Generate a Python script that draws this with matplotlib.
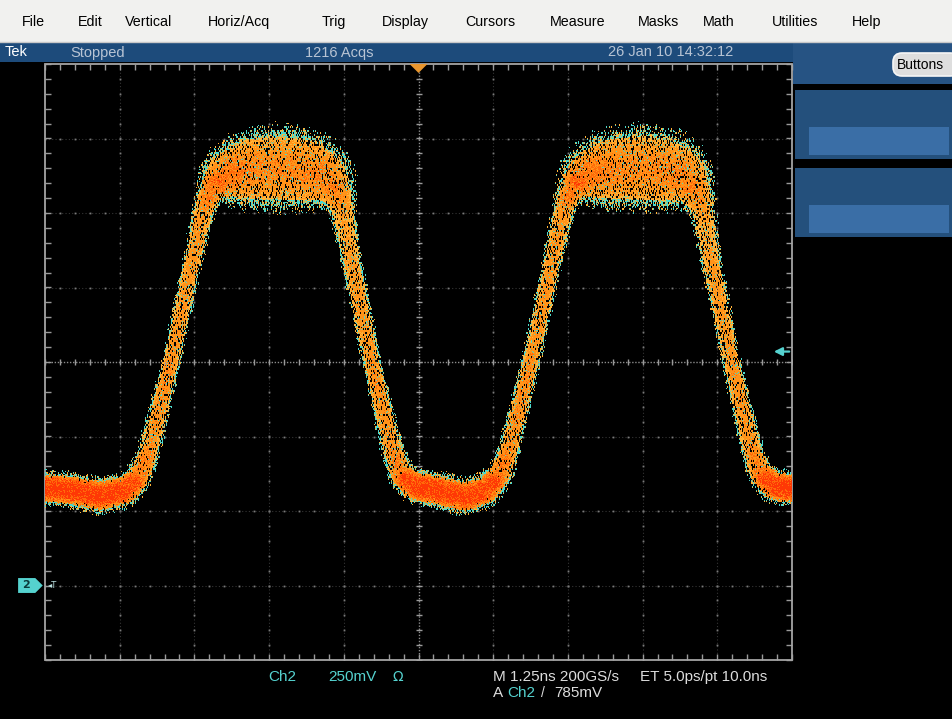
import numpy as np
import matplotlib.pyplot as plt
from matplotlib import font_manager
from matplotlib.patches import Rectangle, FancyBboxPatch, Polygon

# scope settings shown in the readouts
ch2_mv_per_div = 250
ns_per_div = 1.25
ch2_ground_div = -3
trigger_level_mv = 785
acq_count = 1216
timestamp = '26 Jan 10 14:32:12'

# Ch2 colour-graded trace: centre of the band and its half thickness
time_ns = [0.00, 0.42, 0.92, 1.34, 1.56, 1.72, 2.11, 2.51, 2.68, 2.84,
           3.10, 3.51, 3.93, 4.35, 4.64, 4.85, 4.99, 5.09, 5.47, 5.81,
           5.97, 6.19, 6.69, 7.03, 7.36, 7.58, 7.74, 8.13, 8.53, 8.70,
           8.86, 9.12, 9.53, 9.95, 10.37, 10.66, 10.87, 11.01, 11.11, 11.49,
           11.83, 11.99, 12.21, 12.50]
level_mv = [327, 320, 300, 320, 361, 438, 750, 1126, 1277, 1344,
            1381, 1398, 1401, 1394, 1374, 1327, 1260, 1126, 750, 455,
            371, 334, 314, 297, 320, 361, 438, 750, 1126, 1277,
            1344, 1381, 1398, 1401, 1394, 1374, 1327, 1260, 1126, 750,
            455, 371, 334, 325]
spread_mv = [55, 56, 58, 55, 45, 36, 30, 32, 38, 55,
             95, 126, 132, 126, 100, 62, 42, 34, 30, 36,
             45, 55, 58, 58, 55, 45, 36, 30, 32, 38,
             55, 95, 126, 132, 126, 100, 62, 42, 34, 30,
             36, 45, 55, 55]

menu_items = ['File', 'Edit', 'Vertical', 'Horiz/Acq', 'Trig', 'Display',
              'Cursors', 'Measure', 'Masks', 'Math', 'Utilities', 'Help']

W, H = 953, 719
installed = {f.name for f in font_manager.fontManager.ttflist}
narrow = 'Liberation Sans Narrow' if 'Liberation Sans Narrow' in installed else 'Liberation Sans'
ui = 'Liberation Sans'
cyan = '#55d2cf'
grey_txt = '#dcdcdc'

fig = plt.figure(figsize=(W / 100, H / 100), dpi=100, facecolor='black')

# window chrome in pixel coordinates
ax = fig.add_axes([0, 0, 1, 1])
ax.set_xlim(0, W)
ax.set_ylim(H, 0)
ax.axis('off')

ax.add_patch(Rectangle((0, 0), W, 42, fc='#f1f1ef', ec='none'))
ax.plot([0, W], [41.5, 41.5], color='#c8c8c8', lw=1)
menu_x = [22, 78, 125, 208, 322, 382, 465, 550, 638, 703, 772, 852]
for name, mx in zip(menu_items, menu_x):
    ax.text(mx, 22, name, fontsize=10.3, family=ui, color='black', va='center')

ax.add_patch(Rectangle((0, 42), 793, 20, fc='#1d4b7b', ec='none'))
ax.text(5, 52.5, 'Tek', fontsize=10.5, family=narrow, color='white', va='center')
ax.text(70, 52.5, 'Stopped', fontsize=10.5, family=narrow, color='#b8c4d4', va='center')
ax.text(305, 52.5, f'{acq_count} Acqs', fontsize=10.5, family=narrow, color='#b8c4d4', va='center')
ax.text(608, 52.5, timestamp, fontsize=10.5, family=narrow, color='#b8c4d4', va='center')

# right hand control panel
ax.add_patch(Rectangle((793, 42), W - 793, 42, fc='#265383', ec='none'))
ax.add_patch(FancyBboxPatch((893, 53), 66, 23, boxstyle='round,pad=0,rounding_size=9',
                            fc='#dedede', ec='#f6f6f6', lw=1.2))
ax.text(897, 65, 'Buttons', fontsize=10, family=ui, color='black', va='center')
for top in (90, 168):
    ax.add_patch(Rectangle((795, top), W - 795, 69, fc='#24507c', ec='none'))
    ax.add_patch(Rectangle((809, top + 37), 140, 28, fc='#3a6ea6', ec='none'))

# readouts under the graticule
ax.text(268, 677, 'Ch2', fontsize=11, family=narrow, color=cyan, va='center')
ax.text(328, 677, f'{ch2_mv_per_div}mV', fontsize=11, family=narrow, color=cyan, va='center')
ax.text(393, 677, 'Ω', fontsize=10, family='DejaVu Sans', color=cyan, va='center')
ax.text(493, 677, f'M {ns_per_div:.2f}ns 200GS/s', fontsize=11, family=narrow, color=grey_txt, va='center')
ax.text(640, 677, 'ET 5.0ps/pt 10.0ns', fontsize=11, family=narrow, color=grey_txt, va='center')
ax.text(493, 693, 'A', fontsize=11, family=narrow, color=grey_txt, va='center')
ax.text(507, 693, 'Ch2', fontsize=11, family=narrow, color=cyan, va='center')
ax.text(541, 693, '/', fontsize=10, family=narrow, color=grey_txt, va='center')
ax.text(554, 693, f'{trigger_level_mv}mV', fontsize=11, family=narrow, color=grey_txt, va='center')

# graticule: 10 x 8 divisions
g = fig.add_axes([45 / W, (H - 660) / H, 747 / W, 596 / H])
g.patch.set_visible(False)
g.axis('off')

sub = np.arange(-5, 5.001, 0.2)
subv = np.arange(-4, 4.001, 0.2)
dot = '#7a7a7a'
for gx in range(-4, 5):
    if gx == 0:
        continue
    g.axvline(gx, color='#353535', lw=0.8, ls=(0, (1, 2)), zorder=1)
    g.plot(np.full_like(subv, gx), subv, ls='none', marker='s', ms=1.3, mfc=dot, mec='none', zorder=1)
for gy in range(-3, 4):
    if gy == 0:
        continue
    g.axhline(gy, color='#353535', lw=0.8, ls=(0, (1, 2)), zorder=1)
    g.plot(sub, np.full_like(sub, gy), ls='none', marker='s', ms=1.3, mfc=dot, mec='none', zorder=1)

g.axvline(0, color='#8c8c8c', lw=1, ls=(0, (1, 1.2)), zorder=1)
g.axhline(0, color='#8c8c8c', lw=1, ls=(0, (1, 1.2)), zorder=1)
g.plot(np.zeros_like(subv), subv, ls='none', marker='_', ms=5, mew=1, color='#9a9a9a', zorder=1)
g.plot(sub, np.zeros_like(sub), ls='none', marker='|', ms=5, mew=1, color='#9a9a9a', zorder=1)

# minor ticks along the frame, pointing inwards
tick = dict(ls='none', ms=4, mew=1, color='#9a9a9a', zorder=1, clip_on=False)
g.plot(np.full_like(subv, -5), subv, marker=1, **tick)
g.plot(np.full_like(subv, 5), subv, marker=0, **tick)
g.plot(sub, np.full_like(sub, 4), marker=3, **tick)
g.plot(sub, np.full_like(sub, -4), marker=2, **tick)
g.add_patch(Rectangle((-5, -4), 10, 8, fill=False, ec='#a4a4a4', lw=1.3, clip_on=False, zorder=2))

# colour-graded persistence raster, one cell per screen pixel
nx, ny = 747, 596
px_x = nx / 10.0
px_y = ny / 8.0
cols = np.arange(nx)
rows = np.arange(ny)
t_col = (cols + 0.5) / px_x * ns_per_div
mid_mv = np.interp(t_col, time_ns, level_mv)
hw_mv = np.interp(t_col, time_ns, spread_mv)
k = np.hanning(11)
k /= k.sum()
mid_mv = np.convolve(np.pad(mid_mv, 5, mode='edge'), k, mode='valid')

mid_row = (4 - (mid_mv / ch2_mv_per_div + ch2_ground_div)) * px_y - 0.5
hw_px = hw_mv / ch2_mv_per_div * px_y
stretch = np.sqrt(1 + np.gradient(mid_row) ** 2)

# normalised distance from each pixel to the band centre line
win = 60
m_pad = np.pad(mid_row, win, mode='edge')
hw_pad = np.pad(hw_px, win, mode='edge')
hv_pad = np.pad(hw_px * stretch, win, mode='edge')
R = rows[:, None].astype(float)
u = np.full((ny, nx), np.inf)
hw_v = np.ones((ny, nx))
for d in range(-win, win + 1):
    sl = slice(win + d, win + d + nx)
    dist = np.sqrt(d * d + (R - m_pad[sl][None, :]) ** 2) / hw_pad[sl][None, :]
    closer = dist < u
    u = np.where(closer, dist, u)
    hw_v = np.where(closer, hv_pad[sl][None, :], hw_v)

den = np.clip(1 - u ** 2, 0, 1) * (17.0 / hw_v)


def stipple(seed, cell_rows=1):
    r = (rows[:, None] // cell_rows).astype(float)
    c = cols[None, :].astype(float)
    v = np.sin(r * 12.9898 + c * 78.233 + seed * 37.719) * 43758.5453
    return v - np.floor(v)


h1 = stipple(1, 2)
h2 = stipple(2)
h3 = stipple(3)

edge = np.clip((1.2 - u) / 0.35, 0, 1)
p = edge * (0.64 + 0.36 * np.clip(den * 1.5, 0, 1))
lit = h1 < p
level = den * (0.6 + 0.8 * h2)

palette = np.array([
    [1.00, 0.70, 0.22],   # few hits
    [1.00, 0.58, 0.10],
    [1.00, 0.42, 0.04],
    [1.00, 0.22, 0.02],   # most hits
])
idx = np.digitize(level, [0.22, 0.5, 0.78])
rgba = np.zeros((ny, nx, 4))
rgba[..., :3] = palette[idx]
fringe = ((u > 0.8) & (h3 < 0.55)) | ((den < 0.5) & (h3 < 0.06))
rgba[fringe, :3] = [0.30, 0.85, 0.80]
rgba[..., 3] = lit.astype(float)

g.imshow(rgba, extent=(-5, 5, -4, 4), interpolation='nearest', aspect='auto', zorder=3)
g.set_xlim(-5, 5)
g.set_ylim(-4, 4)

# trigger position, trigger level and Ch2 ground markers
g.add_patch(Polygon([(-0.12, 4.0), (0.12, 4.0), (0, 3.88)], closed=True,
                    fc='#e8962e', ec='none', zorder=4, clip_on=False))
trig_div = trigger_level_mv / ch2_mv_per_div + ch2_ground_div
g.annotate('', xy=(4.72, trig_div), xytext=(5.0, trig_div),
           arrowprops=dict(arrowstyle='-|>', color=cyan, lw=1.6, mutation_scale=12),
           annotation_clip=False, zorder=4)
gd = ch2_ground_div
g.add_patch(Polygon([(-5.36, gd - 0.1), (-5.13, gd - 0.1), (-5.03, gd),
                     (-5.13, gd + 0.1), (-5.36, gd + 0.1)], closed=True,
                    fc=cyan, ec='none', zorder=4, clip_on=False))
g.text(-5.25, gd, '2', fontsize=8, fontweight='bold', color='#0b3a3a',
       ha='center', va='center', zorder=5, clip_on=False)
g.text(-4.96, gd, '◂T', fontsize=6, color='#b8dede', ha='left', va='center', zorder=5)

fig.savefig('out.png', dpi=100, facecolor='black')
